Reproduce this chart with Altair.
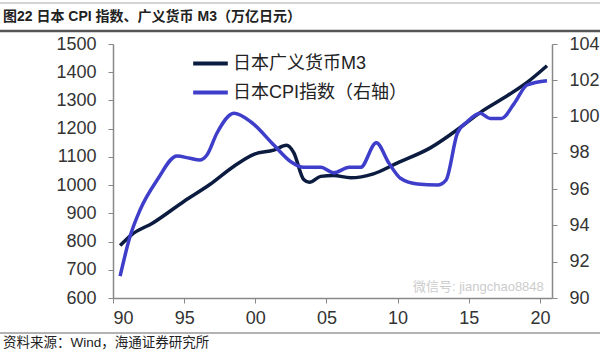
import altair as alt
import pandas as pd

# ---- data ----
m3_years = [1990.5, 1991.3, 1992.8, 1995.0, 1996.8, 1998.5, 1999.9, 2001.3, 2002.2, 2002.7,
            2003.4, 2003.8, 2004.6, 2005.5, 2006.7, 2008.3, 2010.0, 2012.3, 2014.4, 2015.8,
            2017.3, 2019.1, 2020.5]
m3_values = [786, 824, 866, 943, 1002, 1067, 1109, 1124, 1141, 1115,
             1020, 1010, 1031, 1034, 1026, 1040, 1079, 1132, 1204, 1257,
             1304, 1364, 1423]

cpi_years = [1990.5, 1991.2, 1991.9, 1993.1, 1994.5, 1995.4, 1996.1, 1996.6, 1997.3, 1998.5,
             1999.7, 2001.3, 2002.5, 2003.4, 2004.6, 2005.5, 2006.6, 2007.4, 2008.5, 2009.4,
             2010.2, 2011.4, 2012.8, 2013.4, 2014.2, 2014.9, 2015.8, 2016.5, 2017.3, 2018.2,
             2019.1, 2020.5]
cpi_values = [91.2, 93.4, 94.85, 96.5, 97.83, 97.7, 97.6, 97.88, 99.08, 100.18,
              99.7, 98.43, 97.51, 97.2, 97.2, 96.9, 97.2, 97.2, 98.56, 97.42,
              96.6, 96.28, 96.23, 96.5, 99.08, 99.72, 100.18, 99.9, 99.9, 100.73,
              101.74, 101.98]

x_ticks = [1990, 1995, 2000, 2005, 2010, 2015, 2020]
left_ticks = [600, 700, 800, 900, 1000, 1100, 1200, 1300, 1400, 1500]
right_ticks = [90, 92, 94, 96, 98, 100, 102, 104]
series_names = ["日本广义货币M3", "日本CPI指数（右轴）"]
series_colors = ["#0c1c40", "#3e3ecb"]

title_text = "图22 日本 CPI 指数、广义货币 M3（万亿日元）"
source_text = "资料来源：Wind，海通证券研究所"
watermark_text = "微信号: jiangchao8848"

FONT = "Liberation Sans, Noto Sans CJK SC"

m3_df = pd.DataFrame({"year": m3_years, "value": m3_values, "series": series_names[0]})
cpi_df = pd.DataFrame({"year": cpi_years, "value": cpi_values, "series": series_names[1]})
one = pd.DataFrame({"a": [0]})

color = alt.Color(
    "series:N",
    scale=alt.Scale(domain=series_names, range=series_colors),
    legend=alt.Legend(
        title=None, orient="none", legendX=78, legendY=0,
        symbolType="stroke", symbolStrokeWidth=4, symbolSize=1200,
        labelFontSize=18, labelFont=FONT, labelColor="#222", labelLimit=400,
        rowPadding=0, labelOffset=3,
    ),
)

x_enc = alt.X(
    "year:Q",
    scale=alt.Scale(domain=[1990, 2020.85], nice=False, zero=False),
    axis=alt.Axis(values=x_ticks, labelExpr="substring(toString(datum.value), 2, 4)",
                  title=None, grid=False, labelFontSize=18, labelFont=FONT,
                  labelColor="#333", tickSize=5, labelPadding=6),
)

axis_common = dict(title=None, grid=False, labelFontSize=18, labelFont=FONT,
                   labelColor="#333", tickSize=5, labelPadding=12, format="d")

m3_line = alt.Chart(m3_df).mark_line(strokeWidth=3.5, interpolate="monotone").encode(
    x=x_enc,
    y=alt.Y("value:Q", scale=alt.Scale(domain=[600, 1500], nice=False, zero=False),
            axis=alt.Axis(values=left_ticks, orient="left", **axis_common)),
    color=color,
)

cpi_line = alt.Chart(cpi_df).mark_line(strokeWidth=3.5, interpolate="monotone").encode(
    x=x_enc,
    y=alt.Y("value:Q", scale=alt.Scale(domain=[90, 104], nice=False, zero=False),
            axis=alt.Axis(values=right_ticks, orient="right", **axis_common)),
    color=color,
)

# plot origin is at (113, 44) of the page
title = alt.Chart(one).mark_text(align="left", baseline="middle", fontSize=14,
                                 fontWeight="bold", font=FONT, color="#222").encode(
    x=alt.value(-110), y=alt.value(-27), text=alt.value(title_text))
source = alt.Chart(one).mark_text(align="left", baseline="middle", fontSize=13.5,
                                  font=FONT, color="#222").encode(
    x=alt.value(-110), y=alt.value(299), text=alt.value(source_text))
watermark = alt.Chart(one).mark_text(align="left", baseline="middle", fontSize=13,
                                     font=FONT, color="#c0c0c0", opacity=0.8).encode(
    x=alt.value(300), y=alt.value(243), text=alt.value(watermark_text))
top_thin = alt.Chart(one).mark_rule(color="#aaaaaa", strokeWidth=1).encode(
    x=alt.value(-113), x2=alt.value(487), y=alt.value(-41))
top_thick = alt.Chart(one).mark_rule(color="#555555", strokeWidth=2.5).encode(
    x=alt.value(-113), x2=alt.value(487), y=alt.value(-13))
bottom_line = alt.Chart(one).mark_rule(color="#666666", strokeWidth=1).encode(
    x=alt.value(-113), x2=alt.value(487), y=alt.value(289))

chart = alt.layer(
    m3_line, cpi_line, title, source, watermark, top_thin, top_thick, bottom_line
).resolve_scale(y="independent").properties(
    width=439, height=254,
    autosize=alt.AutoSizeParams(type="none"),
    padding={"left": 113, "top": 44, "right": 48, "bottom": 56},
    background="white",
).configure_view(stroke=None).configure_axis(
    domainColor="#888888", tickColor="#888888", domainWidth=1.5
)

chart.save("out.html", embed_options={"renderer": "svg", "actions": False})
